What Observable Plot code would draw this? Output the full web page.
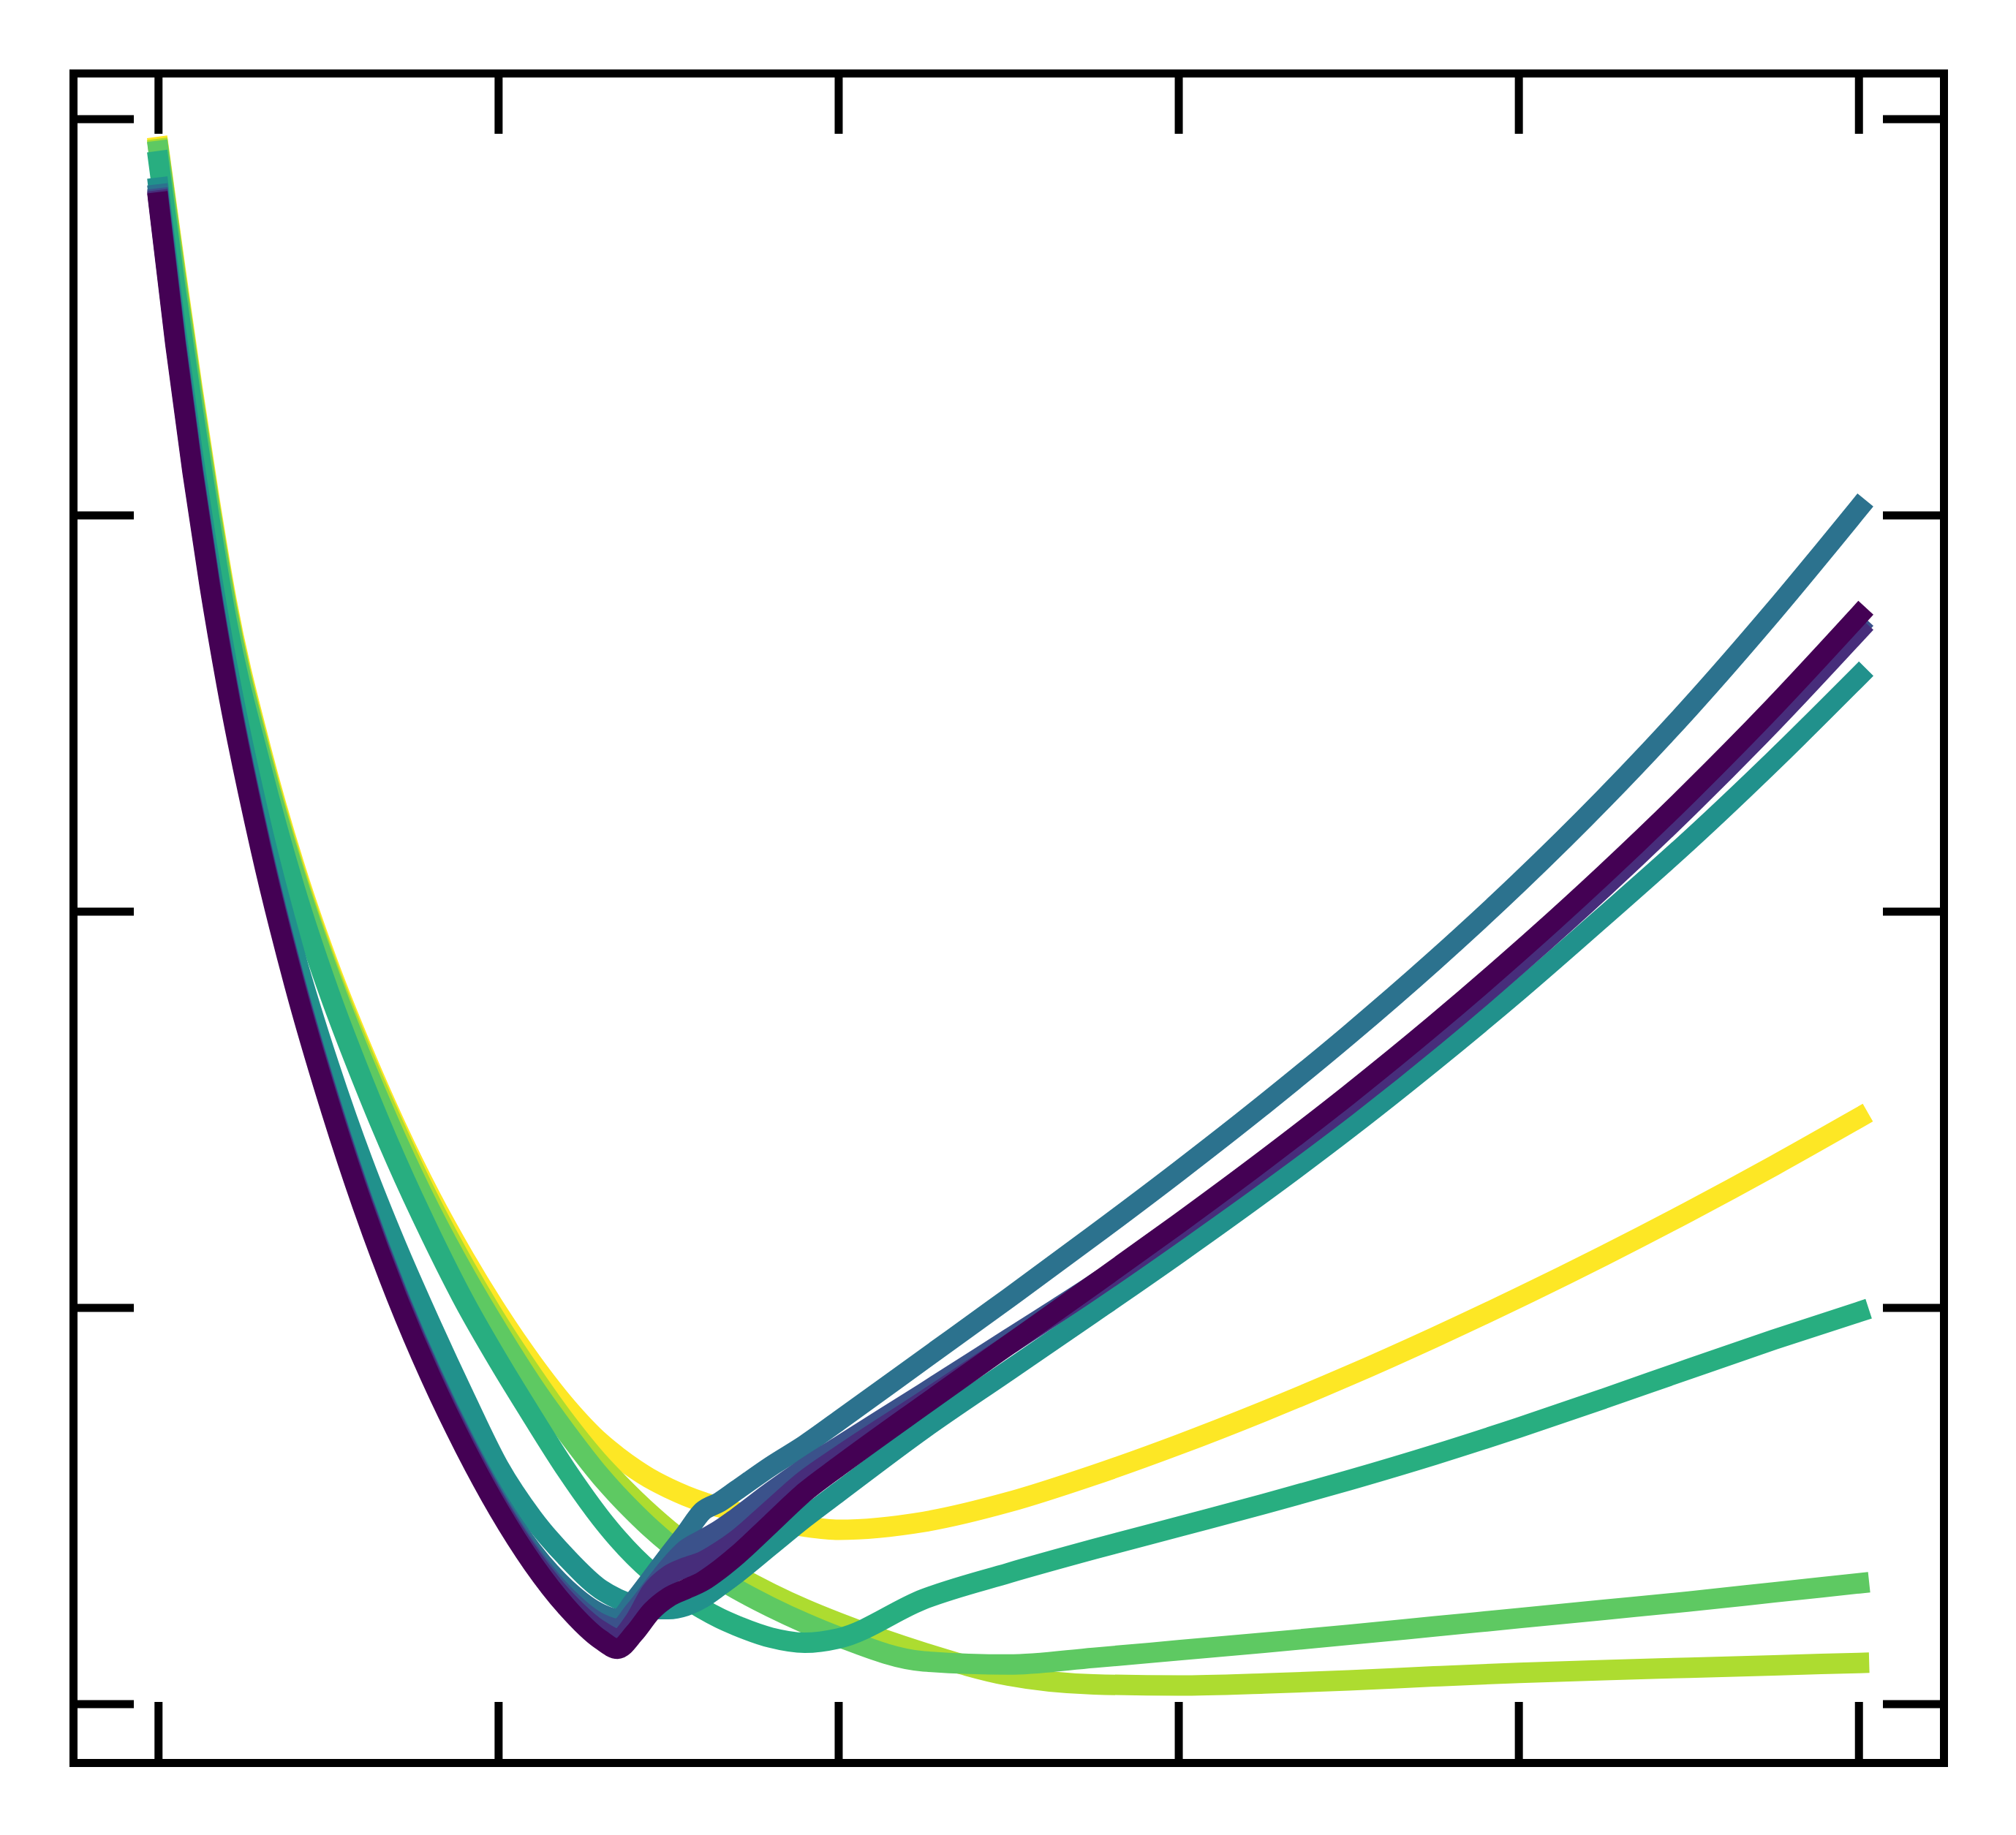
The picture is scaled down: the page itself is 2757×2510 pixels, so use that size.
<!DOCTYPE html>
<html>
<head>
<meta charset="utf-8">
<script src="https://cdn.jsdelivr.net/npm/d3@7"></script>
<script src="https://cdn.jsdelivr.net/npm/@observablehq/plot@0.6"></script>
<style>
  html, body { margin: 0; padding: 0; background: #ffffff; }
  #chart { width: 2757px; height: 2510px; }
</style>
</head>
<body>
<div id="chart"></div>
<script>
// shared x grid
const xs = [0, 0.05, 0.1, 0.15, 0.2, 0.3, 0.4, 0.5, 0.6, 0.7, 0.8, 0.9, 1.0, 1.1, 1.2, 1.3, 1.35, 1.4, 1.45, 1.5, 1.55, 1.6, 1.65, 1.7, 1.8, 1.9, 2.0, 2.25, 2.5, 2.75, 3.0, 3.25, 3.5, 3.75, 4.0, 4.25, 4.5, 4.75, 5.0];

// series values (drawn from last to first: yellow at the bottom, dark purple on top)
const s0 = [3.79, 3.43, 3.11, 2.825, 2.575, 2.16, 1.815, 1.52, 1.258, 1.028, 0.826, 0.648, 0.49, 0.355, 0.245, 0.163, 0.14, 0.18, 0.235, 0.27, 0.29, 0.31, 0.34, 0.375, 0.455, 0.535, 0.60, 0.755, 0.907, 1.059, 1.213, 1.372, 1.538, 1.713, 1.898, 2.093, 2.299, 2.517, 2.748];
const s1 = [3.795, 3.438, 3.118, 2.833, 2.583, 2.168, 1.823, 1.528, 1.266, 1.036, 0.834, 0.656, 0.498, 0.365, 0.26, 0.185, 0.165, 0.21, 0.285, 0.325, 0.345, 0.36, 0.385, 0.415, 0.49, 0.565, 0.625, 0.765, 0.907, 1.049, 1.198, 1.352, 1.513, 1.685, 1.868, 2.061, 2.265, 2.481, 2.71];
const s2 = [3.80, 3.442, 3.122, 2.837, 2.587, 2.172, 1.827, 1.532, 1.27, 1.04, 0.838, 0.66, 0.503, 0.372, 0.27, 0.203, 0.19, 0.235, 0.29, 0.345, 0.39, 0.415, 0.44, 0.47, 0.535, 0.595, 0.65, 0.785, 0.922, 1.059, 1.205, 1.36, 1.523, 1.695, 1.878, 2.071, 2.275, 2.491, 2.72];
const s3 = [3.81, 3.446, 3.126, 2.841, 2.591, 2.176, 1.831, 1.536, 1.274, 1.044, 0.842, 0.665, 0.51, 0.385, 0.29, 0.228, 0.215, 0.262, 0.318, 0.375, 0.43, 0.487, 0.51, 0.54, 0.60, 0.654, 0.715, 0.87, 1.025, 1.183, 1.345, 1.513, 1.689, 1.875, 2.073, 2.285, 2.513, 2.759, 3.019];
const s4 = [3.827, 3.475, 3.16, 2.88, 2.63, 2.225, 1.895, 1.615, 1.37, 1.155, 0.96, 0.775, 0.60, 0.47, 0.37, 0.29, 0.266, 0.25, 0.241, 0.24, 0.248, 0.268, 0.298, 0.33, 0.40, 0.47, 0.535, 0.695, 0.842, 0.989, 1.138, 1.292, 1.453, 1.623, 1.801, 1.988, 2.179, 2.382, 2.595];
const s5 = [3.894, 3.57, 3.27, 2.99, 2.735, 2.37, 2.06, 1.80, 1.575, 1.37, 1.185, 1.015, 0.865, 0.725, 0.59, 0.47, 0.418, 0.372, 0.332, 0.297, 0.267, 0.24, 0.217, 0.198, 0.168, 0.155, 0.166, 0.265, 0.331, 0.391, 0.448, 0.505, 0.565, 0.629, 0.698, 0.771, 0.846, 0.92, 0.99];
const s6 = [3.92, 3.60, 3.30, 3.02, 2.765, 2.395, 2.095, 1.845, 1.625, 1.425, 1.245, 1.085, 0.94, 0.805, 0.685, 0.575, 0.527, 0.483, 0.442, 0.405, 0.372, 0.342, 0.315, 0.29, 0.245, 0.205, 0.17, 0.108, 0.1, 0.117, 0.136, 0.155, 0.175, 0.196, 0.217, 0.238, 0.259, 0.282, 0.305];
const s7 = [3.925, 3.61, 3.31, 3.03, 2.775, 2.405, 2.105, 1.855, 1.64, 1.445, 1.265, 1.105, 0.96, 0.83, 0.71, 0.605, 0.56, 0.517, 0.477, 0.44, 0.407, 0.377, 0.35, 0.325, 0.28, 0.24, 0.205, 0.13, 0.072, 0.05, 0.047, 0.052, 0.06, 0.07, 0.079, 0.086, 0.092, 0.098, 0.104];
const s8 = [3.93, 3.62, 3.32, 3.04, 2.785, 2.415, 2.115, 1.865, 1.65, 1.455, 1.28, 1.125, 0.985, 0.86, 0.75, 0.66, 0.625, 0.594, 0.567, 0.545, 0.526, 0.51, 0.497, 0.485, 0.463, 0.448, 0.44, 0.46, 0.51, 0.578, 0.655, 0.739, 0.829, 0.925, 1.026, 1.132, 1.243, 1.359, 1.48];

const seriesValues = [s0, s1, s2, s3, s4, s5, s6, s7, s8];
const seriesColors = ["#440154", "#472d7b", "#3b528b", "#2c728e", "#21918c", "#28ae80", "#5ec962", "#addc30", "#fde725"];

// tick positions
const xTicks = [0, 1, 2, 3, 4, 5];
const yTicks = [0, 1, 2, 3, 4];

const W = 2757, H = 2510;
const mL = 100, mT = 100, mR = 99, mB = 99;
const innerW = W - mL - mR, innerH = H - mT - mB;
const tickLen = 83;

const lineMarks = [];
for (let i = seriesValues.length - 1; i >= 0; i--) {
  const rows = xs.map((x, j) => ({x, y: seriesValues[i][j]}));
  lineMarks.push(Plot.line(rows, {
    x: "x", y: "y",
    stroke: seriesColors[i],
    strokeWidth: 28,
    curve: "monotone-x",
    strokeLinecap: "square",
    strokeLinejoin: "round"
  }));
}

const tickStyle = {stroke: "#000", strokeWidth: 11, strokeLinecap: "butt"};

const chart = Plot.plot({
  width: W,
  height: H,
  marginLeft: mL, marginTop: mT, marginRight: mR, marginBottom: mB,
  x: {domain: [-0.25, 5.25], axis: null},
  y: {domain: [-0.1485, 4.1154], axis: null},
  style: {background: "#ffffff"},
  marks: [
    ...lineMarks,
    Plot.tickX(xTicks, {x: d => d, insetBottom: innerH - tickLen, ...tickStyle}),
    Plot.tickX(xTicks, {x: d => d, insetTop: innerH - tickLen, ...tickStyle}),
    Plot.tickY(yTicks, {y: d => d, insetRight: innerW - tickLen, ...tickStyle}),
    Plot.tickY(yTicks, {y: d => d, insetLeft: innerW - tickLen, ...tickStyle}),
    Plot.frame({stroke: "#000", strokeWidth: 11})
  ]
});
document.getElementById("chart").appendChild(chart);
</script>
</body>
</html>
